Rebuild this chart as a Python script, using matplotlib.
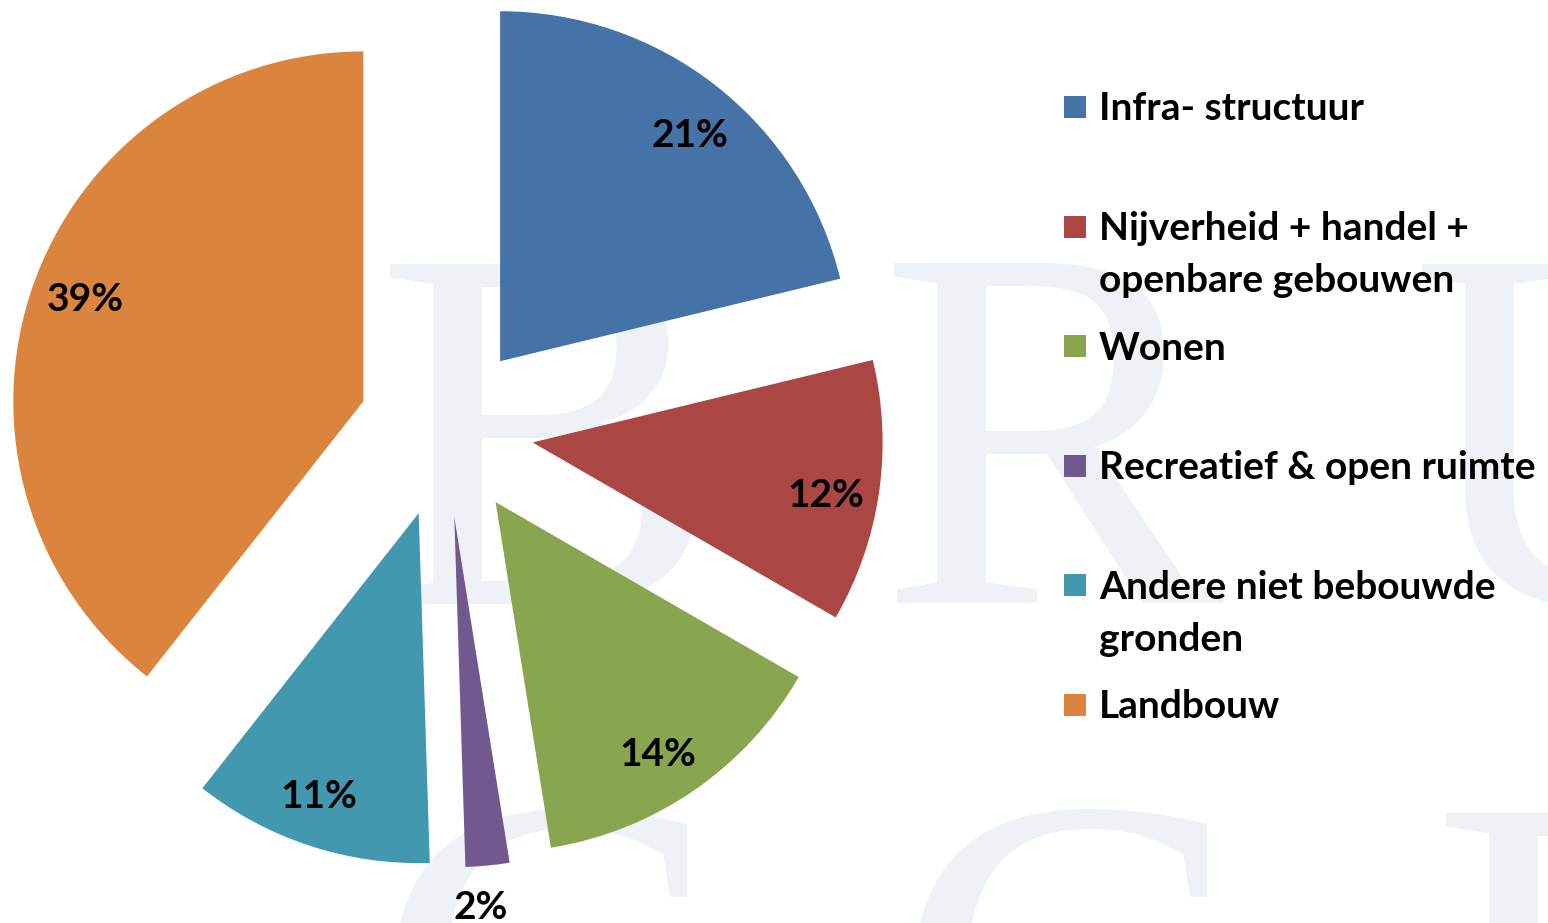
import matplotlib
matplotlib.use("Agg")
import matplotlib.pyplot as plt
from matplotlib.patches import Rectangle
import numpy as np

# ── Data ──────────────────────────────────────────────────────────────
categories = [
    "Infra- structuur",
    "Nijverheid + handel +\nopenbare gebouwen",
    "Wonen",
    "Recreatief & open ruimte",
    "Andere niet bebouwde\ngronden",
    "Landbouw",
]
shares = [21, 12, 14, 2, 11, 39]
colors = ["#4572A7", "#AA4643", "#89A54E", "#71588F", "#4198AF", "#DB843D"]
watermark_rows = ["BRU", "GGE"]

W, H = 1548, 923
RADIUS_PX = 350
CENTER_PX = (446, 430)
FONT = ["Lato", "DejaVu Sans"]


def fig_xy(x, y):
    return x / W, 1 - y / H


fig = plt.figure(figsize=(W / 100, H / 100), dpi=100)
fig.patch.set_facecolor("white")

# ── Watermark (behind everything) ─────────────────────────────────────
wm_x = [[374, 878, 1410], [372, 892, 1430]]
wm_base = [603, 1152]
for row, xs, yb in zip(watermark_rows, wm_x, wm_base):
    for ch, x in zip(row, xs):
        fx, fy = fig_xy(x, yb)
        fig.text(fx, fy, ch, fontsize=372, family="Liberation Serif",
                 color="#EEF1F6", ha="left", va="baseline", zorder=-5)

# ── Pie ───────────────────────────────────────────────────────────────
ax = fig.add_axes([0, 0, 1, 1])
ax.patch.set_alpha(0)
cx, cy = CENTER_PX
explode = [0.25] * len(shares)
wedges, texts, autotexts = ax.pie(
    shares, colors=colors, startangle=90, counterclock=False,
    explode=explode, radius=1, pctdistance=0.85,
    autopct=lambda p: f"{p:.0f}%",
    wedgeprops=dict(linewidth=0),
    textprops=dict(fontsize=28, fontweight="bold", color="black", family=FONT),
)
ax.set_xlim(-cx / RADIUS_PX, (W - cx) / RADIUS_PX)
ax.set_ylim(-(H - cy) / RADIUS_PX, cy / RADIUS_PX)
ax.set_aspect("auto")
ax.axis("off")

# labels sit a little clockwise of the wedge middle, small slice outside
for w, t, val in zip(wedges, autotexts, shares):
    t.set_va("center_baseline")
    mid = np.deg2rad((w.theta1 + w.theta2) / 2 - 1.5)
    ox, oy = w.center
    r = 1.11 if val < 5 else 0.85
    t.set_position((ox + r * np.cos(mid), oy + r * np.sin(mid)))

# ── Legend (drawn by hand so the marker sits on the first line) ───────
y_first, step, line_gap = 109, 119.6, 52
for i, (label, col) in enumerate(zip(categories, colors)):
    y = y_first + i * step
    fx, fy = fig_xy(1064, y + 9)
    fig.add_artist(Rectangle((fx, fy), 22 / W, 22 / H, transform=fig.transFigure,
                             facecolor=col, edgecolor="none"))
    for j, line in enumerate(label.split("\n")):
        tx, ty = fig_xy(1099, y + j * line_gap)
        fig.text(tx, ty, line, fontsize=28, fontweight="bold", family=FONT,
                 color="black", ha="left", va="center")

fig.savefig("out.png", dpi=100)
